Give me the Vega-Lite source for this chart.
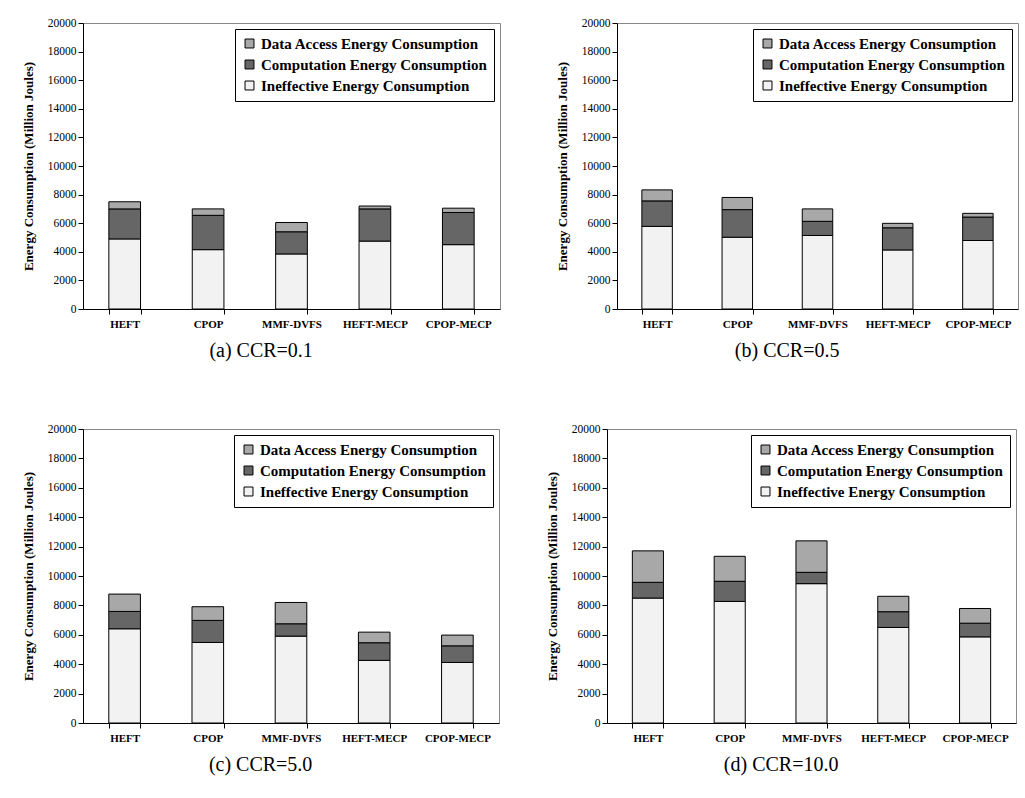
{
  "$schema": "https://vega.github.io/schema/vega-lite/v6.json",
  "background": "white",
  "padding": {"left": 21, "top": 16, "right": 5, "bottom": 5},
  "data": {"values": [
    {"p":"a","alg":"HEFT","type":"Ineffective Energy Consumption","v":4900,"o":1},
    {"p":"a","alg":"HEFT","type":"Computation Energy Consumption","v":2100,"o":2},
    {"p":"a","alg":"HEFT","type":"Data Access Energy Consumption","v":500,"o":3},
    {"p":"a","alg":"CPOP","type":"Ineffective Energy Consumption","v":4150,"o":1},
    {"p":"a","alg":"CPOP","type":"Computation Energy Consumption","v":2400,"o":2},
    {"p":"a","alg":"CPOP","type":"Data Access Energy Consumption","v":450,"o":3},
    {"p":"a","alg":"MMF-DVFS","type":"Ineffective Energy Consumption","v":3850,"o":1},
    {"p":"a","alg":"MMF-DVFS","type":"Computation Energy Consumption","v":1550,"o":2},
    {"p":"a","alg":"MMF-DVFS","type":"Data Access Energy Consumption","v":650,"o":3},
    {"p":"a","alg":"HEFT-MECP","type":"Ineffective Energy Consumption","v":4750,"o":1},
    {"p":"a","alg":"HEFT-MECP","type":"Computation Energy Consumption","v":2250,"o":2},
    {"p":"a","alg":"HEFT-MECP","type":"Data Access Energy Consumption","v":200,"o":3},
    {"p":"a","alg":"CPOP-MECP","type":"Ineffective Energy Consumption","v":4500,"o":1},
    {"p":"a","alg":"CPOP-MECP","type":"Computation Energy Consumption","v":2250,"o":2},
    {"p":"a","alg":"CPOP-MECP","type":"Data Access Energy Consumption","v":300,"o":3},

    {"p":"b","alg":"HEFT","type":"Ineffective Energy Consumption","v":5780,"o":1},
    {"p":"b","alg":"HEFT","type":"Computation Energy Consumption","v":1780,"o":2},
    {"p":"b","alg":"HEFT","type":"Data Access Energy Consumption","v":770,"o":3},
    {"p":"b","alg":"CPOP","type":"Ineffective Energy Consumption","v":5020,"o":1},
    {"p":"b","alg":"CPOP","type":"Computation Energy Consumption","v":1930,"o":2},
    {"p":"b","alg":"CPOP","type":"Data Access Energy Consumption","v":850,"o":3},
    {"p":"b","alg":"MMF-DVFS","type":"Ineffective Energy Consumption","v":5140,"o":1},
    {"p":"b","alg":"MMF-DVFS","type":"Computation Energy Consumption","v":990,"o":2},
    {"p":"b","alg":"MMF-DVFS","type":"Data Access Energy Consumption","v":870,"o":3},
    {"p":"b","alg":"HEFT-MECP","type":"Ineffective Energy Consumption","v":4130,"o":1},
    {"p":"b","alg":"HEFT-MECP","type":"Computation Energy Consumption","v":1550,"o":2},
    {"p":"b","alg":"HEFT-MECP","type":"Data Access Energy Consumption","v":310,"o":3},
    {"p":"b","alg":"CPOP-MECP","type":"Ineffective Energy Consumption","v":4790,"o":1},
    {"p":"b","alg":"CPOP-MECP","type":"Computation Energy Consumption","v":1640,"o":2},
    {"p":"b","alg":"CPOP-MECP","type":"Data Access Energy Consumption","v":260,"o":3},

    {"p":"c","alg":"HEFT","type":"Ineffective Energy Consumption","v":6410,"o":1},
    {"p":"c","alg":"HEFT","type":"Computation Energy Consumption","v":1180,"o":2},
    {"p":"c","alg":"HEFT","type":"Data Access Energy Consumption","v":1180,"o":3},
    {"p":"c","alg":"CPOP","type":"Ineffective Energy Consumption","v":5480,"o":1},
    {"p":"c","alg":"CPOP","type":"Computation Energy Consumption","v":1500,"o":2},
    {"p":"c","alg":"CPOP","type":"Data Access Energy Consumption","v":930,"o":3},
    {"p":"c","alg":"MMF-DVFS","type":"Ineffective Energy Consumption","v":5910,"o":1},
    {"p":"c","alg":"MMF-DVFS","type":"Computation Energy Consumption","v":840,"o":2},
    {"p":"c","alg":"MMF-DVFS","type":"Data Access Energy Consumption","v":1450,"o":3},
    {"p":"c","alg":"HEFT-MECP","type":"Ineffective Energy Consumption","v":4260,"o":1},
    {"p":"c","alg":"HEFT-MECP","type":"Computation Energy Consumption","v":1200,"o":2},
    {"p":"c","alg":"HEFT-MECP","type":"Data Access Energy Consumption","v":720,"o":3},
    {"p":"c","alg":"CPOP-MECP","type":"Ineffective Energy Consumption","v":4120,"o":1},
    {"p":"c","alg":"CPOP-MECP","type":"Computation Energy Consumption","v":1130,"o":2},
    {"p":"c","alg":"CPOP-MECP","type":"Data Access Energy Consumption","v":730,"o":3},

    {"p":"d","alg":"HEFT","type":"Ineffective Energy Consumption","v":8500,"o":1},
    {"p":"d","alg":"HEFT","type":"Computation Energy Consumption","v":1070,"o":2},
    {"p":"d","alg":"HEFT","type":"Data Access Energy Consumption","v":2140,"o":3},
    {"p":"d","alg":"CPOP","type":"Ineffective Energy Consumption","v":8270,"o":1},
    {"p":"d","alg":"CPOP","type":"Computation Energy Consumption","v":1370,"o":2},
    {"p":"d","alg":"CPOP","type":"Data Access Energy Consumption","v":1700,"o":3},
    {"p":"d","alg":"MMF-DVFS","type":"Ineffective Energy Consumption","v":9480,"o":1},
    {"p":"d","alg":"MMF-DVFS","type":"Computation Energy Consumption","v":770,"o":2},
    {"p":"d","alg":"MMF-DVFS","type":"Data Access Energy Consumption","v":2140,"o":3},
    {"p":"d","alg":"HEFT-MECP","type":"Ineffective Energy Consumption","v":6500,"o":1},
    {"p":"d","alg":"HEFT-MECP","type":"Computation Energy Consumption","v":1070,"o":2},
    {"p":"d","alg":"HEFT-MECP","type":"Data Access Energy Consumption","v":1050,"o":3},
    {"p":"d","alg":"CPOP-MECP","type":"Ineffective Energy Consumption","v":5860,"o":1},
    {"p":"d","alg":"CPOP-MECP","type":"Computation Energy Consumption","v":930,"o":2},
    {"p":"d","alg":"CPOP-MECP","type":"Data Access Energy Consumption","v":1000,"o":3}
  ]},
  "resolve": {"legend": {"color": "independent"}},
  "spacing": 60,
  "vconcat": [
    {
      "resolve": {"legend": {"color": "independent"}},
      "spacing": 54,
      "hconcat": [
        {
          "transform": [{"filter": "datum.p == 'a'"}],
          "width": 417, "height": 286,
          "title": {"text": "(a) CCR=0.1", "font": "Liberation Serif"},
          "mark": {"type": "bar", "stroke": "black", "strokeWidth": 1},
          "encoding": {
            "x": {"field": "alg", "type": "nominal", "sort": ["HEFT","CPOP","MMF-DVFS","HEFT-MECP","CPOP-MECP"], "title": null},
            "y": {"field": "v", "type": "quantitative", "stack": "zero", "scale": {"domain": [0, 20000]}, "title": "Energy Consumption (Million Joules)"},
            "color": {"field": "type", "type": "nominal", "scale": {"domain": ["Data Access Energy Consumption","Computation Energy Consumption","Ineffective Energy Consumption"], "range": ["#a8a8a8", "#666666", "#f2f2f2"]}},
            "order": {"field": "o", "type": "quantitative"}
          }
        },
        {
          "transform": [{"filter": "datum.p == 'b'"}],
          "width": 401, "height": 286,
          "title": {"text": "(b) CCR=0.5", "font": "Liberation Serif"},
          "mark": {"type": "bar", "stroke": "black", "strokeWidth": 1},
          "encoding": {
            "x": {"field": "alg", "type": "nominal", "sort": ["HEFT","CPOP","MMF-DVFS","HEFT-MECP","CPOP-MECP"], "title": null},
            "y": {"field": "v", "type": "quantitative", "stack": "zero", "scale": {"domain": [0, 20000]}, "title": "Energy Consumption (Million Joules)"},
            "color": {"field": "type", "type": "nominal", "scale": {"domain": ["Data Access Energy Consumption","Computation Energy Consumption","Ineffective Energy Consumption"], "range": ["#a8a8a8", "#666666", "#f2f2f2"]}},
            "order": {"field": "o", "type": "quantitative"}
          }
        }
      ]
    },
    {
      "resolve": {"legend": {"color": "independent"}},
      "spacing": 45,
      "hconcat": [
        {
          "transform": [{"filter": "datum.p == 'c'"}],
          "width": 416, "height": 294,
          "title": {"text": "(c) CCR=5.0", "font": "Liberation Serif"},
          "mark": {"type": "bar", "stroke": "black", "strokeWidth": 1},
          "encoding": {
            "x": {"field": "alg", "type": "nominal", "sort": ["HEFT","CPOP","MMF-DVFS","HEFT-MECP","CPOP-MECP"], "title": null},
            "y": {"field": "v", "type": "quantitative", "stack": "zero", "scale": {"domain": [0, 20000]}, "title": "Energy Consumption (Million Joules)"},
            "color": {"field": "type", "type": "nominal", "scale": {"domain": ["Data Access Energy Consumption","Computation Energy Consumption","Ineffective Energy Consumption"], "range": ["#a8a8a8", "#666666", "#f2f2f2"]}},
            "order": {"field": "o", "type": "quantitative"}
          }
        },
        {
          "transform": [{"filter": "datum.p == 'd'"}],
          "width": 409, "height": 294,
          "title": {"text": "(d) CCR=10.0", "font": "Liberation Serif"},
          "mark": {"type": "bar", "stroke": "black", "strokeWidth": 1},
          "encoding": {
            "x": {"field": "alg", "type": "nominal", "sort": ["HEFT","CPOP","MMF-DVFS","HEFT-MECP","CPOP-MECP"], "title": null},
            "y": {"field": "v", "type": "quantitative", "stack": "zero", "scale": {"domain": [0, 20000]}, "title": "Energy Consumption (Million Joules)"},
            "color": {"field": "type", "type": "nominal", "scale": {"domain": ["Data Access Energy Consumption","Computation Energy Consumption","Ineffective Energy Consumption"], "range": ["#a8a8a8", "#666666", "#f2f2f2"]}},
            "order": {"field": "o", "type": "quantitative"}
          }
        }
      ]
    }
  ],
  "config": {
    "font": "Liberation Serif",
    "view": {"stroke": "#888888", "strokeWidth": 1},
    "scale": {"bandPaddingInner": 0.62, "bandPaddingOuter": 0.31},
    "title": {"orient": "bottom", "anchor": "middle", "frame": "bounds", "fontSize": 20, "fontWeight": "normal", "font": "Liberation Serif", "color": "black", "offset": 12},
    "axis": {"domainColor": "black", "tickColor": "black", "labelColor": "black", "titleColor": "black", "grid": false, "labelFont": "Liberation Serif", "titleFont": "Liberation Serif", "tickSize": 5},
    "axisX": {"labelAngle": 0, "labelFontWeight": "bold", "labelFontSize": 11, "tickBand": "extent", "labelPadding": 4},
    "axisY": {"values": [0,2000,4000,6000,8000,10000,12000,14000,16000,18000,20000], "format": "d", "labelFontSize": 11.5, "labelPadding": 2, "titleFontSize": 13, "titleFontWeight": "bold", "titlePadding": 12},
    "legend": {"orient": "top-right", "offset": 6, "title": null, "strokeColor": "black", "fillColor": "white", "padding": 7, "labelFont": "Liberation Serif", "labelFontWeight": "bold", "labelFontSize": 15, "labelColor": "black", "symbolType": "square", "symbolSize": 80, "symbolStrokeColor": "black", "symbolStrokeWidth": 1, "rowPadding": 5, "labelLimit": 400}
  }
}
